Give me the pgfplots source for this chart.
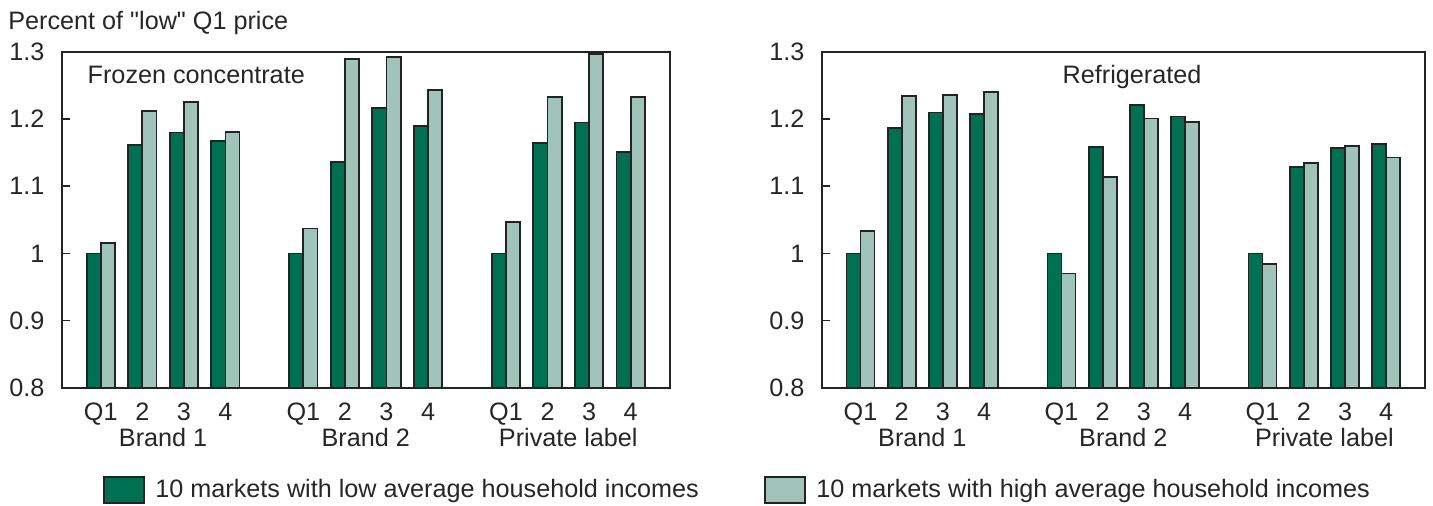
\documentclass[border=0pt]{standalone}
\usepackage{fontspec}
\setmainfont{Liberation Sans}[Ligatures=TeXOff]
\usepackage{pgfplots}
\usepackage{pgfplotstable}
\pgfplotsset{compat=1.18}

\definecolor{lowinc}{RGB}{0,112,82}
\definecolor{highinc}{RGB}{161,196,186}
\definecolor{edge}{RGB}{35,35,35}
\newcommand\chartfont{\fontsize{12.6pt}{14.5pt}\selectfont}

% Price relative to the "low" Q1 price; pos = bar-pair position on the x axis
\pgfplotstableread{
pos    low   high
0      1.000 1.016
1      1.162 1.212
2      1.180 1.226
3      1.167 1.181
4.875  1.000 1.037
5.875  1.136 1.290
6.875  1.216 1.293
7.875  1.190 1.243
9.75   1.000 1.047
10.75  1.165 1.233
11.75  1.195 1.297
12.75  1.151 1.233
}\frozen

\pgfplotstableread{
pos    low   high
0      1.000 1.033
1      1.187 1.235
2      1.210 1.236
3      1.208 1.241
4.875  1.000 0.970
5.875  1.159 1.114
6.875  1.221 1.201
7.875  1.204 1.196
9.75   1.000 0.984
10.75  1.129 1.135
11.75  1.157 1.160
12.75  1.163 1.143
}\refrig

\tikzset{grouplabel/.style={anchor=base, inner sep=0pt, text=black!85}}

\pgfplotsset{
  priceaxis/.style={
    scale only axis,
    height=167.85pt,
    ymin=0.8, ymax=1.3,
    ytick={0.8,0.9,1,1.1,1.2,1.3},
    yticklabels={0.8,0.9,1,1.1,1.2,1.3},
    xmin=-0.94, xmax=13.69,
    xtick={0,1,2,3,4.875,5.875,6.875,7.875,9.75,10.75,11.75,12.75},
    xticklabels={Q1,2,3,4,Q1,2,3,4,Q1,2,3,4},
    x tick style={draw=none},
    ytick pos=left,
    tick align=inside,
    major tick length=4pt,
    y tick style={edge, line width=0.9pt},
    axis line style={edge, line width=1.1pt},
    every tick label/.append style={font=\chartfont, text=black!85},
    xticklabel style={anchor=base, inner sep=0pt, yshift=-12.4pt},
    yticklabel style={anchor=east, inner sep=0pt, xshift=-8.4pt},
    ybar, bar width=0.34,
    clip mode=individual,
    legend image code/.code={\draw[##1, line width=0.9pt] (0pt,-2.5pt) rectangle (20pt,10.5pt);},
    legend style={draw=none, fill=none, inner sep=0pt, outer sep=0pt,
      anchor=west, font=\chartfont, text=black!85,
      nodes={inner sep=0pt, anchor=base west},
      /tikz/every odd column/.append style={column sep=5.3pt}},
  },
  lowbar/.style={fill=lowinc, draw=edge, line width=0.9pt, bar shift=-0.17},
  highbar/.style={fill=highinc, draw=edge, line width=0.9pt, bar shift=0.17},
}

\begin{document}
\chartfont
\begin{tikzpicture}[font=\chartfont]
\useasboundingbox (0,0) rectangle (716.5pt,-253pt);

\node[anchor=base west, inner sep=0pt, text=black!85] at (4pt,-15pt) {Percent of "low" Q1 price};

% Frozen concentrate
\begin{axis}[priceaxis, width=304pt, at={(30.85pt,-26pt)}, anchor=north west,
    legend style={at={(0.0679,-0.3047)}}]
  \addplot[lowbar] table[x=pos, y=low] {\frozen};
  \addlegendentry{10 markets with low average household incomes}
  \addplot[highbar, forget plot] table[x=pos, y=high] {\frozen};
  \node[anchor=base west, inner sep=0pt, text=black!85] at ([xshift=12.8pt, yshift=-15.65pt]rel axis cs:0,1) {Frozen concentrate};
  \node[grouplabel] at ([yshift=-29.6pt]axis cs:1.5,0.8) {Brand 1};
  \node[grouplabel] at ([yshift=-29.6pt]axis cs:6.375,0.8) {Brand 2};
  \node[grouplabel] at ([yshift=-29.6pt]axis cs:11.25,0.8) {Private label};
\end{axis}

% Refrigerated
\begin{axis}[priceaxis, width=301.65pt, at={(410.85pt,-26pt)}, anchor=north west,
    legend style={at={(-0.0956,-0.3047)}}]
  \addplot[lowbar, forget plot] table[x=pos, y=low] {\refrig};
  \addplot[highbar] table[x=pos, y=high] {\refrig};
  \addlegendentry{10 markets with high average household incomes}
  \node[anchor=base, inner sep=0pt, text=black!85] at ([yshift=-15.65pt]rel axis cs:0.5143,1) {Refrigerated};
  \node[grouplabel] at ([yshift=-29.6pt]axis cs:1.5,0.8) {Brand 1};
  \node[grouplabel] at ([yshift=-29.6pt]axis cs:6.375,0.8) {Brand 2};
  \node[grouplabel] at ([yshift=-29.6pt]axis cs:11.25,0.8) {Private label};
\end{axis}
\end{tikzpicture}
\end{document}
